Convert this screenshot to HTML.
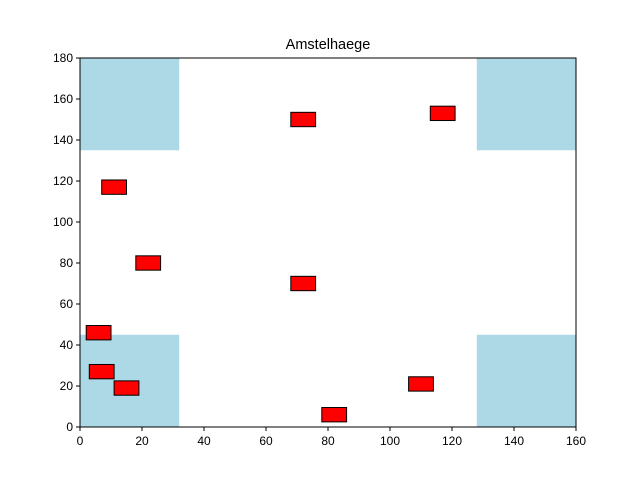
<!DOCTYPE html>
<html><head><meta charset="utf-8"><style>body{margin:0;background:#fff}svg{display:block;font-family:"Liberation Sans",sans-serif}</style></head>
<body>
<svg id="chart" width="640" height="480"></svg>
<script>
const xTicks=[0,20,40,60,80,100,120,140,160];
const yTicks=[0,20,40,60,80,100,120,140,160,180];
const zoneX=[0,128,0,128];
const zoneY=[135,135,0,0];
const zoneW=[32,32,32,32];
const zoneH=[45,45,45,45];
const boxX=[72,117,11,22,72,6,7,15,110,82];
const boxY=[150,153,117,80,70,46,27,19,21,6];
const boxW=8, boxH=7;
const svg=document.getElementById('chart');
const NS='http://www.w3.org/2000/svg';
const L=80,R=576,T=58,B=427;
const sx=v=>L+(v-0)/(160-0)*(R-L);
const sy=v=>B-(v-0)/(180-0)*(B-T);
function mk(t,a){const e=document.createElementNS(NS,t);for(const k in a)e.setAttribute(k,a[k]);svg.appendChild(e);return e;}
for(let i=0;i<zoneX.length;i++){
 const r=mk('rect',{x:sx(zoneX[i]),y:sy(zoneY[i]+zoneH[i]),width:sx(zoneX[i]+zoneW[i])-sx(zoneX[i]),height:sy(zoneY[i])-sy(zoneY[i]+zoneH[i]),fill:'#add8e6'});
 
 
}
for(let i=0;i<boxX.length;i++){
 const r=mk('rect',{x:sx(boxX[i]-boxW/2),y:sy(boxY[i]+boxH/2),width:sx(boxW)-sx(0),height:sy(0)-sy(boxH),fill:'#ff0000',stroke:'#000','stroke-width':1});
 
 
}
const fr=mk('rect',{x:L,y:T,width:R-L,height:B-T,fill:'none',stroke:'#000','stroke-width':1});


xTicks.forEach(v=>{
 mk('line',{x1:sx(v),x2:sx(v),y1:B,y2:B+4,stroke:'#000'});
 const t=mk('text',{x:sx(v),y:B+18,'text-anchor':'middle','font-size':12});t.textContent=v;
 
 
});
yTicks.forEach(v=>{
 mk('line',{x1:L-4,x2:L,y1:sy(v),y2:sy(v),stroke:'#000'});
 const t=mk('text',{x:L-7,y:sy(v)+4,'text-anchor':'end','font-size':12});t.textContent=v;
 
 
});
const ti=mk('text',{x:(L+R)/2,y:T-9,'text-anchor':'middle','font-size':14.5});ti.textContent='Amstelhaege';


</script>
</body></html>
